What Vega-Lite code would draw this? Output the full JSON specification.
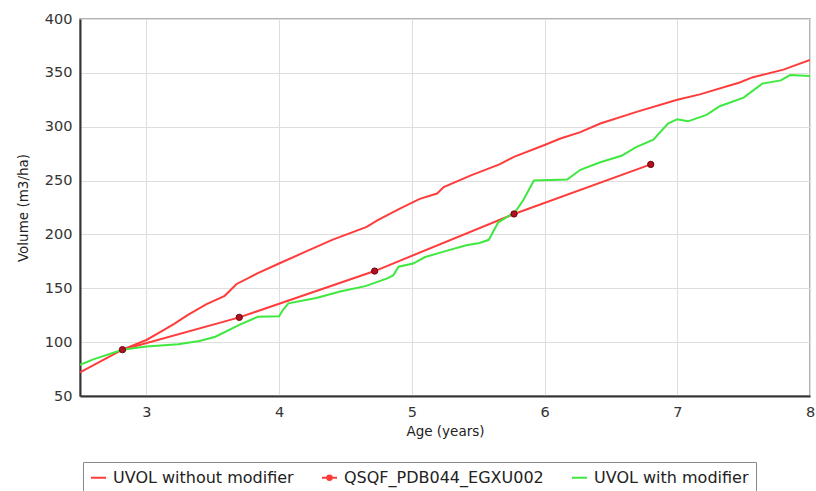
{
  "$schema": "https://vega.github.io/schema/vega-lite/v6.json",
  "autosize": "none",
  "width": 730,
  "height": 377,
  "padding": {"left": 80, "top": 19, "right": 6, "bottom": 95},
  "background": "white",
  "config": {
    "font": "DejaVu Sans",
    "view": {"stroke": "#9a9a9a", "strokeWidth": 1.5},
    "axis": {
      "domainColor": "#333333",
      "domainWidth": 2,
      "gridColor": "#dedede",
      "gridWidth": 1,
      "ticks": false,
      "labelFontSize": 14.5,
      "labelColor": "#333333",
      "labelFont": "DejaVu Sans",
      "titleFont": "DejaVu Sans",
      "titleFontSize": 13.5,
      "titleFontWeight": "normal",
      "titleColor": "#222222"
    }
  },
  "data": {
    "values": [
      {"s": "UVOL without modifier", "age": 2.5, "vol": 72},
      {"s": "UVOL without modifier", "age": 2.82, "vol": 93},
      {"s": "UVOL without modifier", "age": 3.0, "vol": 102},
      {"s": "UVOL without modifier", "age": 3.1, "vol": 109},
      {"s": "UVOL without modifier", "age": 3.21, "vol": 117},
      {"s": "UVOL without modifier", "age": 3.31, "vol": 125},
      {"s": "UVOL without modifier", "age": 3.45, "vol": 135},
      {"s": "UVOL without modifier", "age": 3.59, "vol": 143},
      {"s": "UVOL without modifier", "age": 3.68, "vol": 154},
      {"s": "UVOL without modifier", "age": 3.84, "vol": 164},
      {"s": "UVOL without modifier", "age": 4.0, "vol": 173},
      {"s": "UVOL without modifier", "age": 4.2, "vol": 184},
      {"s": "UVOL without modifier", "age": 4.4, "vol": 195},
      {"s": "UVOL without modifier", "age": 4.66, "vol": 207},
      {"s": "UVOL without modifier", "age": 4.74, "vol": 213},
      {"s": "UVOL without modifier", "age": 4.91, "vol": 224},
      {"s": "UVOL without modifier", "age": 5.06, "vol": 233},
      {"s": "UVOL without modifier", "age": 5.19, "vol": 238},
      {"s": "UVOL without modifier", "age": 5.24, "vol": 244},
      {"s": "UVOL without modifier", "age": 5.45, "vol": 255},
      {"s": "UVOL without modifier", "age": 5.66, "vol": 265},
      {"s": "UVOL without modifier", "age": 5.77, "vol": 272},
      {"s": "UVOL without modifier", "age": 6.0, "vol": 283},
      {"s": "UVOL without modifier", "age": 6.12, "vol": 289},
      {"s": "UVOL without modifier", "age": 6.27, "vol": 295},
      {"s": "UVOL without modifier", "age": 6.42, "vol": 303},
      {"s": "UVOL without modifier", "age": 6.7, "vol": 314},
      {"s": "UVOL without modifier", "age": 7.0, "vol": 325},
      {"s": "UVOL without modifier", "age": 7.17, "vol": 330},
      {"s": "UVOL without modifier", "age": 7.47, "vol": 341},
      {"s": "UVOL without modifier", "age": 7.57, "vol": 346},
      {"s": "UVOL without modifier", "age": 7.8, "vol": 353},
      {"s": "UVOL without modifier", "age": 8.0, "vol": 362},
      {"s": "QSQF_PDB044_EGXU002", "age": 2.82, "vol": 93},
      {"s": "QSQF_PDB044_EGXU002", "age": 3.7, "vol": 123},
      {"s": "QSQF_PDB044_EGXU002", "age": 4.72, "vol": 166},
      {"s": "QSQF_PDB044_EGXU002", "age": 5.77, "vol": 219},
      {"s": "QSQF_PDB044_EGXU002", "age": 6.8, "vol": 265},
      {"s": "UVOL with modifier", "age": 2.5, "vol": 79},
      {"s": "UVOL with modifier", "age": 2.6, "vol": 84},
      {"s": "UVOL with modifier", "age": 2.82, "vol": 93},
      {"s": "UVOL with modifier", "age": 3.0, "vol": 96},
      {"s": "UVOL with modifier", "age": 3.24, "vol": 98},
      {"s": "UVOL with modifier", "age": 3.4, "vol": 101},
      {"s": "UVOL with modifier", "age": 3.52, "vol": 105},
      {"s": "UVOL with modifier", "age": 3.7, "vol": 116},
      {"s": "UVOL with modifier", "age": 3.84, "vol": 123.5},
      {"s": "UVOL with modifier", "age": 4.0, "vol": 124},
      {"s": "UVOL with modifier", "age": 4.03, "vol": 130},
      {"s": "UVOL with modifier", "age": 4.07, "vol": 136},
      {"s": "UVOL with modifier", "age": 4.28, "vol": 141},
      {"s": "UVOL with modifier", "age": 4.46, "vol": 147},
      {"s": "UVOL with modifier", "age": 4.65, "vol": 152},
      {"s": "UVOL with modifier", "age": 4.81, "vol": 159},
      {"s": "UVOL with modifier", "age": 4.86, "vol": 162},
      {"s": "UVOL with modifier", "age": 4.9, "vol": 170},
      {"s": "UVOL with modifier", "age": 5.01, "vol": 173},
      {"s": "UVOL with modifier", "age": 5.1, "vol": 179},
      {"s": "UVOL with modifier", "age": 5.24, "vol": 184},
      {"s": "UVOL with modifier", "age": 5.41, "vol": 190},
      {"s": "UVOL with modifier", "age": 5.51, "vol": 192},
      {"s": "UVOL with modifier", "age": 5.58, "vol": 195},
      {"s": "UVOL with modifier", "age": 5.65, "vol": 211},
      {"s": "UVOL with modifier", "age": 5.78, "vol": 221},
      {"s": "UVOL with modifier", "age": 5.84, "vol": 232},
      {"s": "UVOL with modifier", "age": 5.92, "vol": 250},
      {"s": "UVOL with modifier", "age": 6.17, "vol": 251},
      {"s": "UVOL with modifier", "age": 6.27, "vol": 260},
      {"s": "UVOL with modifier", "age": 6.42, "vol": 267},
      {"s": "UVOL with modifier", "age": 6.58, "vol": 273},
      {"s": "UVOL with modifier", "age": 6.69, "vol": 281},
      {"s": "UVOL with modifier", "age": 6.82, "vol": 288},
      {"s": "UVOL with modifier", "age": 6.93, "vol": 303},
      {"s": "UVOL with modifier", "age": 7.0, "vol": 307},
      {"s": "UVOL with modifier", "age": 7.08, "vol": 305},
      {"s": "UVOL with modifier", "age": 7.22, "vol": 311},
      {"s": "UVOL with modifier", "age": 7.32, "vol": 319},
      {"s": "UVOL with modifier", "age": 7.5, "vol": 327},
      {"s": "UVOL with modifier", "age": 7.64, "vol": 340},
      {"s": "UVOL with modifier", "age": 7.78, "vol": 343},
      {"s": "UVOL with modifier", "age": 7.85, "vol": 348},
      {"s": "UVOL with modifier", "age": 8.0, "vol": 347}
    ]
  },
  "encoding": {
    "x": {
      "field": "age", "type": "quantitative",
      "scale": {"domain": [2.5, 8], "nice": false, "zero": false},
      "axis": {"title": "Age (years)", "values": [3, 4, 5, 6, 7, 8], "format": "d", "labelPadding": 9, "titlePadding": 6, "labelFlush": false}
    },
    "y": {
      "field": "vol", "type": "quantitative",
      "scale": {"domain": [50, 400], "nice": false, "zero": false},
      "axis": {"title": "Volume (m3/ha)", "values": [50, 100, 150, 200, 250, 300, 350, 400], "labelPadding": 8, "titlePadding": 14}
    }
  },
  "layer": [
    {
      "mark": {"type": "line", "strokeWidth": 2, "clip": true},
      "encoding": {
        "color": {
          "field": "s", "type": "nominal",
          "scale": {
            "domain": ["UVOL without modifier", "QSQF_PDB044_EGXU002", "UVOL with modifier"],
            "range": ["#ff3c3c", "#ff3c3c", "#3fe83f"]
          },
          "legend": {
            "title": null,
            "orient": "none",
            "legendX": 3,
            "legendY": 443,
            "direction": "horizontal",
            "strokeColor": "#8a8a8a",
            "padding": 7,
            "labelFontSize": 16,
            "labelFont": "DejaVu Sans",
            "labelColor": "#222222",
            "labelLimit": 300,
            "symbolType": "stroke",
            "symbolSize": 225,
            "symbolStrokeWidth": 2,
            "columnPadding": 24,
            "labelOffset": 6,
            "encode": {
              "symbols": {
                "update": {
                  "shape": {"signal": "datum.value === 'QSQF_PDB044_EGXU002' ? 'M-1,0H1M-0.3,0A0.3,0.3,0,1,1,0.3,0A0.3,0.3,0,1,1,-0.3,0Z' : 'stroke'"},
                  "fill": {"signal": "datum.value === 'QSQF_PDB044_EGXU002' ? '#b01020' : 'transparent'"}
                }
              }
            }
          }
        },
        "detail": {"field": "s"}
      }
    },
    {
      "transform": [{"filter": "datum.s === 'QSQF_PDB044_EGXU002'"}],
      "mark": {"type": "point", "filled": true, "size": 40, "color": "#b01020", "stroke": "#6a0a10", "strokeWidth": 1, "opacity": 1}
    }
  ]
}
